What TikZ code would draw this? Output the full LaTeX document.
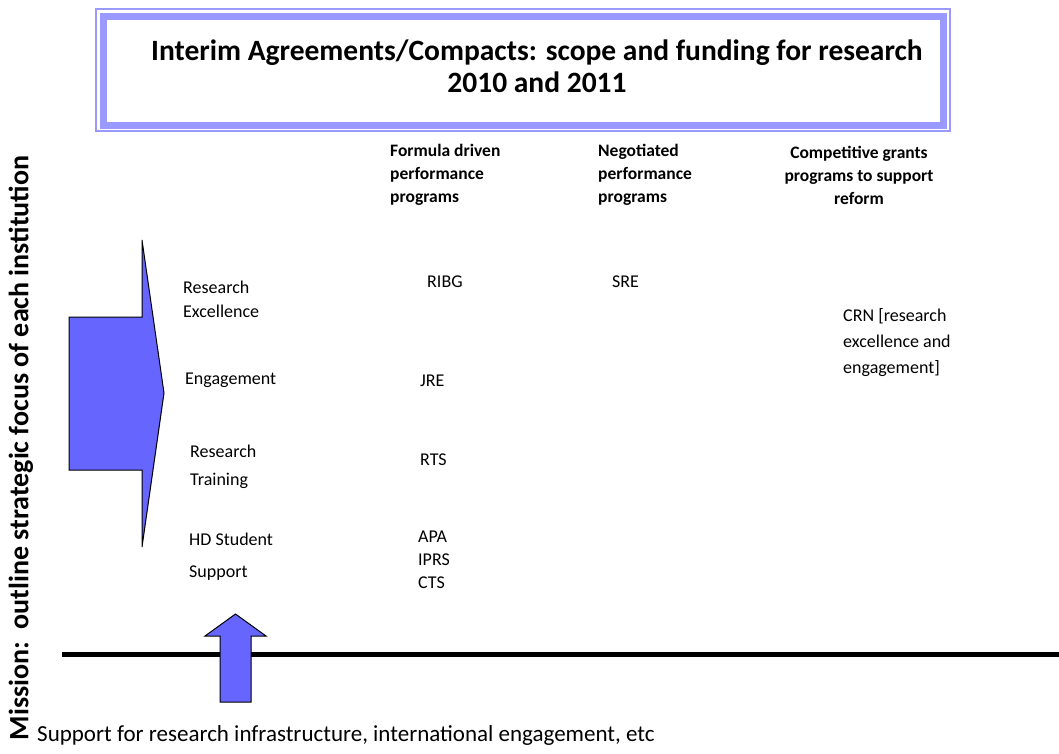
\documentclass[tikz,border=0pt]{standalone}
\usepackage{fontspec}
\setmainfont{Carlito}
\usepackage{tikz}

\definecolor{arrowblue}{HTML}{6666FF}
\definecolor{framblue}{HTML}{9999FF}

\begin{document}
\begin{tikzpicture}[x=1pt,y=-1pt,
    hdr/.style={font=\bfseries\fontsize{17.5}{23}\selectfont,align=left,anchor=west,inner sep=0pt},
    lbl/.style={font=\fontsize{18}{24}\selectfont,align=left,anchor=west,inner sep=0pt}]
  \useasboundingbox (0,0) rectangle (1059,753);
  % title frame: thin outer line, thick inner band
  \draw[framblue,line width=1.5pt] (96,9) rectangle (950,131);
  \draw[framblue,line width=7pt] (103.5,16) rectangle (943,125.5);
  \node[font=\bfseries\fontsize{29.5}{32}\selectfont,align=center,inner sep=0pt] (title) at (537,66)
    {Interim Agreements/Compacts: scope and funding for research\\2010 and 2011};
  % column heads
  \node[hdr] (formula) at (390,175) {Formula driven\\performance\\programs};
  \node[hdr] (negot) at (598,175) {Negotiated\\performance\\programs};
  \node[hdr,align=center,anchor=center] (compet) at (859,175) {Competitive grants\\programs to support\\reform};
  % big arrow (mission)
  \draw[fill=arrowblue,line width=1pt,line join=miter]
    (69,317) -- (142,317) -- (142,240) -- (164,393) -- (142,547) -- (142,470) -- (69,470) -- cycle;
  \node[font=\bfseries\fontsize{28}{30}\selectfont,rotate=90,inner sep=0pt] (mission) at (21,448)
    {Mission:\ \ outline strategic focus of each institution};
  % focus areas
  \node[lbl] (resexc) at (183,299) {Research\\Excellence};
  \node[lbl] (engage) at (185,380) {Engagement};
  \node[lbl,font=\fontsize{18}{28}\selectfont] (restrain) at (190,467) {Research\\Training};
  \node[lbl,font=\fontsize{18}{32}\selectfont] (hdsupp) at (189,557) {HD Student\\Support};
  % programs
  \node[lbl] (ribg) at (427,282) {RIBG};
  \node[lbl] (sre) at (612,282) {SRE};
  \node[lbl] (jre) at (420,381) {JRE};
  \node[lbl] (rts) at (420,460) {RTS};
  \node[lbl,font=\fontsize{18}{23}\selectfont] (apa) at (418,560) {APA\\IPRS\\CTS};
  \node[lbl,font=\fontsize{18}{26}\selectfont] (crn) at (843,343) {CRN [research\\excellence and\\engagement]};
  % base line and support arrow
  \draw[line width=5pt] (62,654) -- (1059,654);
  \draw[fill=arrowblue,line width=1pt,line join=miter]
    (220,702) -- (220,636) -- (205,636) -- (235.5,614) -- (266,636) -- (251,636) -- (251,702) -- cycle;
  \node[lbl,font=\fontsize{23}{26}\selectfont] (infra) at (37,735) {Support for research infrastructure, international engagement, etc};
\end{tikzpicture}
\end{document}
